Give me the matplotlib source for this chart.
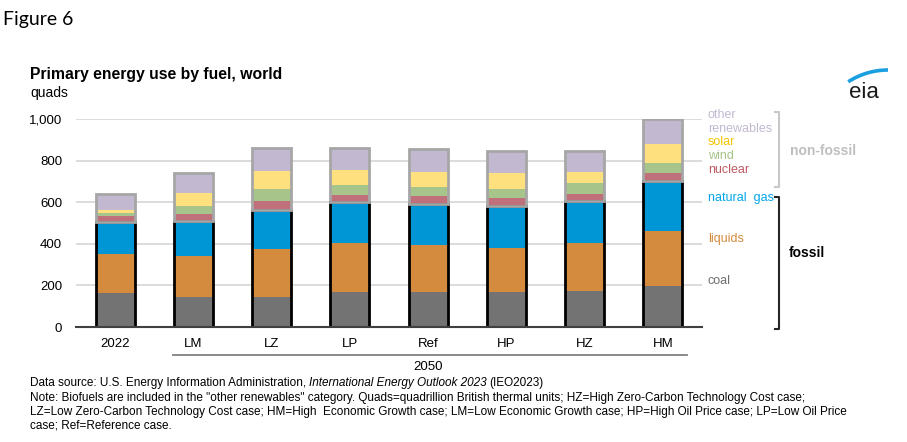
import matplotlib
matplotlib.use("Agg")
import matplotlib.pyplot as plt
import numpy as np
from matplotlib.lines import Line2D
from matplotlib.patches import Arc
from matplotlib import font_manager

# data (quads)
cases = ['2022', 'LM', 'LZ', 'LP', 'Ref', 'HP', 'HZ', 'HM']
coal = [162, 142, 146, 168, 168, 168, 174, 197]
liquids = [187, 199, 228, 237, 227, 214, 228, 264]
natural_gas = [156, 169, 187, 196, 198, 200, 204, 239]
nuclear = [28, 32, 44, 33, 36, 36, 32, 38]
wind = [16, 39, 57, 48, 45, 46, 52, 52]
solar = [13, 61, 90, 75, 73, 77, 54, 92]
other_renewables = [76, 100, 110, 105, 107, 105, 102, 116]

series = [
    ('coal', coal, '#737373'),
    ('liquids', liquids, '#D58B3E'),
    ('natural gas', natural_gas, '#0096D6'),
    ('nuclear', nuclear, '#C0707A'),
    ('wind', wind, '#A7C58B'),
    ('solar', solar, '#FFE07F'),
    ('other renewables', other_renewables, '#C2B9D1'),
]

plt.rcParams['font.family'] = ['Liberation Sans', 'DejaVu Sans']

W, H = 907, 442
fig = plt.figure(figsize=(W / 100, H / 100), dpi=100)


def fx(px):
    return px / W


def fy(py):
    return 1 - py / H


ax = fig.add_axes([fx(76), fy(327), fx(702) - fx(76), fy(119) - fy(327)])
x = np.arange(len(cases))
width = 0.5

bottom = np.zeros(len(cases))
for name, vals, col in series:
    ax.bar(x, vals, width, bottom=bottom, color=col, zorder=2, linewidth=0)
    bottom += np.array(vals)

fossil = np.array(coal) + np.array(liquids) + np.array(natural_gas)
nonfossil = np.array(nuclear) + np.array(wind) + np.array(solar) + np.array(other_renewables)
ax.bar(x, fossil, width, fill=False, edgecolor='black', linewidth=2.0, zorder=3)
ax.bar(x, nonfossil, width, bottom=fossil, fill=False, edgecolor='#A6A6A6', linewidth=2.0, zorder=4)

ax.set_xlim(-0.5, 7.5)
ax.set_ylim(0, 1000)
ax.set_yticks(range(0, 1001, 200))
ax.set_yticklabels(['0', '200', '400', '600', '800', '1,000'], fontsize=9.5)
ax.set_xticks(x)
ax.set_xticklabels(cases, fontsize=9.5)
ax.tick_params(axis='both', length=0)
ax.tick_params(axis='x', pad=8)
ax.tick_params(axis='y', pad=10)
ax.grid(axis='y', color='#D9D9D9', linewidth=1.3, zorder=0)
ax.set_axisbelow(True)
for s in ['top', 'right', 'left']:
    ax.spines[s].set_visible(False)
ax.spines['bottom'].set_color('#404040')
ax.spines['bottom'].set_linewidth(1.5)
ax.spines['bottom'].set_zorder(5)

# 2050 group line and label
ax.plot([0.74, 7.31], [-135, -135], color='#808080', lw=1.3, clip_on=False)
ax.text(4, -190, '2050', ha='center', va='center', fontsize=9.5)

# titles
fig.text(fx(3), fy(20), 'Figure 6', fontsize=14, family=['Lato', 'DejaVu Sans'], va='center')
fig.text(fx(30), fy(74), 'Primary energy use by fuel, world', fontsize=11.3,
         fontweight='bold', va='center')
fig.text(fx(30), fy(93), 'quads', fontsize=10, va='center')

# right-side labels
labels = [
    ('other', 115, '#C2B9D1'),
    ('renewables', 129, '#C2B9D1'),
    ('solar', 142, '#F5C400'),
    ('wind', 156, '#A7C58B'),
    ('nuclear', 170, '#BE5A64'),
    ('natural  gas', 198, '#00A6EA'),
    ('liquids', 239, '#D58B3E'),
    ('coal', 281, '#6E6E6E'),
]
for txt, py, col in labels:
    fig.text(fx(708), fy(py), txt, color=col, fontsize=9, va='center')


# brackets
def bracket(x0, y0, y1, col):
    fig.add_artist(Line2D([fx(x0 - 4), fx(x0), fx(x0), fx(x0 - 4)],
                          [fy(y0), fy(y0), fy(y1), fy(y1)],
                          color=col, lw=1.5, transform=fig.transFigure))


bracket(779, 112, 187, '#C8C8C8')
bracket(779, 197, 329, '#262626')
fig.text(fx(790), fy(151), 'non-fossil', color='#BFBFBF', fontsize=10,
         fontweight='bold', va='center')
fig.text(fx(789), fy(253), 'fossil', color='black', fontsize=10,
         fontweight='bold', va='center')

# eia logo, drawn in pixel coordinates (y axis inverted)
logo = fig.add_axes([fx(830), fy(105), fx(900) - fx(830), fy(60) - fy(105)])
logo.set_xlim(830, 900)
logo.set_ylim(105, 60)
logo.axis('off')
logo.add_patch(Arc((888, 143), 146, 146, theta1=237, theta2=270, color='#1A9FE0', lw=2.6))
logo.text(864, 92, 'eia', fontsize=16, color='#1A1A1A', ha='center', va='center')

# notes
narrow = 'Liberation Sans Narrow'
try:
    font_manager.findfont(narrow, fallback_to_default=False)
    note_fam = [narrow, 'DejaVu Sans']
except Exception:
    note_fam = ['Liberation Sans', 'DejaVu Sans']

src = fig.text(fx(30), fy(383), 'Data source: U.S. Energy Information Administration, ',
               fontsize=8.5, family=note_fam, va='center')
notes = [
    ('Note: Biofuels are included in the "other renewables" category. Quads=quadrillion British thermal units; '
     'HZ=High Zero-Carbon Technology Cost case;', 398),
    ('LZ=Low Zero-Carbon Technology Cost case; HM=High  Economic Growth case; LM=Low Economic Growth case; '
     'HP=High Oil Price case; LP=Low Oil Price', 412),
    ('case; Ref=Reference case.', 426),
]
for txt, py in notes:
    fig.text(fx(30), fy(py), txt, fontsize=8.5, family=note_fam, va='center')

# italic part of the source line
fig.canvas.draw()
r = fig.canvas.get_renderer()
bb = src.get_window_extent(r)
it = fig.text(bb.x1 / W, fy(383), 'International Energy Outlook 2023', fontsize=8.5,
              family=note_fam, style='italic', va='center')
bb2 = it.get_window_extent(r)
fig.text(bb2.x1 / W + 0.002, fy(383), '(IEO2023)', fontsize=8.5, family=note_fam, va='center')

fig.savefig('out.png', dpi=100)
